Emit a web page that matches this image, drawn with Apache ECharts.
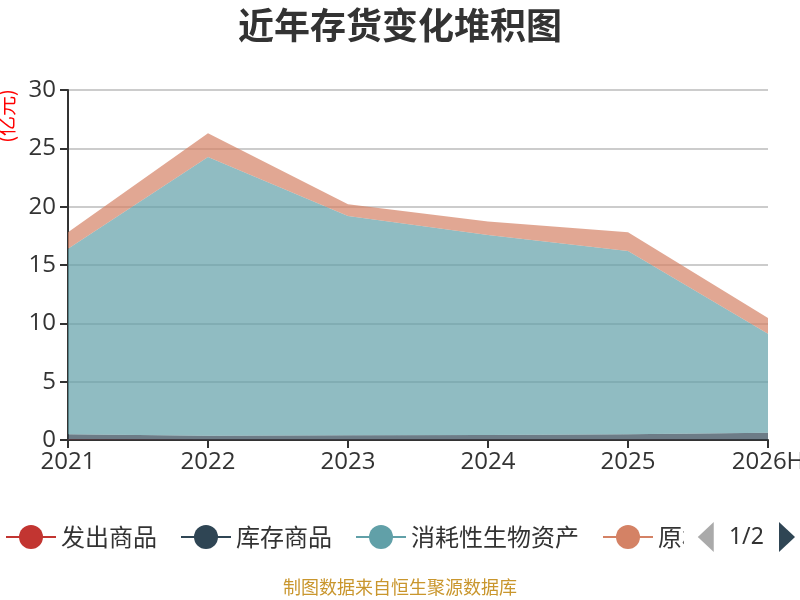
<!DOCTYPE html>
<html>
<head>
<meta charset="utf-8">
<script src="https://cdn.jsdelivr.net/npm/echarts@6/dist/echarts.min.js"></script>
<style>
  html, body { margin: 0; padding: 0; background: #fff; }
  #chart { width: 800px; height: 600px; }
</style>
</head>
<body>
<div id="chart"></div>
<script>
// categories and values (亿元)
const years = ['2021', '2022', '2023', '2024', '2025', '2026H']
const seriesNames = ['发出商品', '库存商品', '消耗性生物资产', '原材料', '在产品']
const faChuShangPin = [0.05, 0.03, 0.03, 0.03, 0.03, 0.05]
const kuCunShangPin = [0.45, 0.34, 0.37, 0.40, 0.47, 0.58]
const xiaoHaoXing = [15.9, 23.88, 18.8, 17.14, 15.7, 8.47]
const yuanCaiLiao = [1.4, 2.05, 1.0, 1.15, 1.6, 1.35]
// second legend page, nothing visible in the picture
const zaiChanPin = [0, 0, 0, 0, 0, 0]
const yTicks = [0, 5, 10, 15, 20, 25, 30]

const colors = ['#c23531', '#2f4554', '#61a0a8', '#d48265', '#91c7ae']
const seriesData = [faChuShangPin, kuCunShangPin, xiaoHaoXing, yuanCaiLiao, zaiChanPin]

const chart = echarts.init(document.getElementById('chart'))

const option = {
  color: colors,
  title: {
    text: '近年存货变化堆积图',
    left: 'center',
    top: 2,
    textStyle: {
      fontSize: 36,
      fontWeight: 'bold',
      color: '#333',
      fontFamily: 'Noto Sans CJK SC'
    }
  },
  legend: {
    type: 'scroll',
    left: 0,
    right: -7,
    top: 517,
    itemWidth: 50,
    itemHeight: 30,
    itemGap: 23,
    data: seriesNames,
    lineStyle: { width: 2 },
    textStyle: { fontSize: 24, color: '#333', fontFamily: 'Noto Sans CJK SC' },
    pageIcons: {
      horizontal: ['path://M0,15L16,0L16,30Z', 'path://M16,15L0,0L0,30Z']
    },
    pageIconColor: '#2f4554',
    pageIconInactiveColor: '#aaa',
    pageIconSize: [16, 30],
    pageButtonItemGap: 4,
    pageButtonGap: 14,
    pageTextStyle: { fontSize: 23, color: '#333', fontFamily: 'Noto Sans' }
  },
  grid: {
    left: 68,
    right: 32,
    top: 90,
    bottom: 160,
    outerBoundsMode: 'none'
  },
  xAxis: {
    type: 'category',
    boundaryGap: false,
    data: years,
    axisLine: { lineStyle: { color: '#333', width: 2 } },
    axisTick: { show: true, length: 8, lineStyle: { width: 2 } },
    axisLabel: { fontSize: 24, color: '#333', margin: 10, fontFamily: 'Open Sans' }
  },
  yAxis: {
    type: 'value',
    min: yTicks[0],
    max: yTicks[yTicks.length - 1],
    interval: 5,
    axisLine: { show: true, lineStyle: { color: '#333', width: 2 } },
    axisTick: { show: true, length: 8, lineStyle: { width: 2 } },
    axisLabel: { fontSize: 24, color: '#333', margin: 12, fontFamily: 'Open Sans' },
    splitLine: { lineStyle: { color: '#ccc', width: 2 } }
  },
  graphic: [
    {
      type: 'text',
      x: 6,
      y: 116,
      rotation: Math.PI / 2,
      style: {
        text: '(亿元)',
        fill: '#ff0000',
        fontSize: 20,
        fontFamily: 'Noto Sans CJK SC',
        textAlign: 'center',
        textVerticalAlign: 'middle'
      }
    },
    {
      type: 'text',
      left: 'center',
      top: 578,
      style: {
        text: '制图数据来自恒生聚源数据库',
        fill: '#c9962d',
        fontSize: 18,
        fontFamily: 'Noto Sans CJK SC'
      }
    }
  ],
  series: seriesNames.map((name, i) => ({
    name: name,
    type: 'line',
    stack: 'total',
    symbol: 'circle',
    showSymbol: false,
    data: seriesData[i],
    lineStyle: { width: 0 },
    areaStyle: { opacity: 0.7 }
  }))
}

chart.setOption(option)
</script>
</body>
</html>
